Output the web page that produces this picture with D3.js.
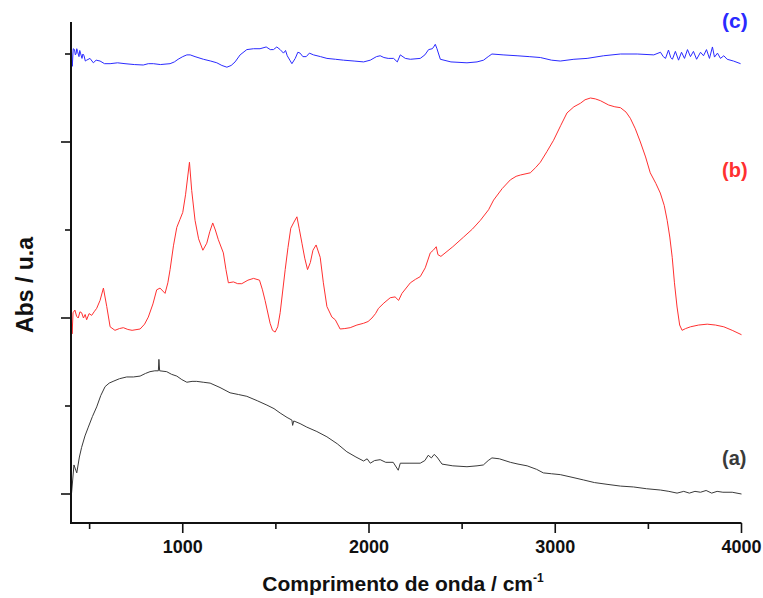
<!DOCTYPE html>
<html>
<head>
<meta charset="utf-8">
<script src="https://cdn.jsdelivr.net/npm/d3@7"></script>
<style>
  body { margin: 0; background: #fff; }
  svg text { font-family: "Liberation Sans", Arial, sans-serif; font-weight: bold; }
</style>
</head>
<body>
<div id="chart"></div>
<script>
// Spectrum (a) - black, [wavenumber, absorbance]
var seriesA = [
  [403, 0.01], [416, 0.33], [431, 0.24], [445, 0.42], [457, 0.53], [475, 0.66], [493, 0.76],
  [515, 0.88], [538, 0.99], [560, 1.12], [583, 1.22], [605, 1.26], [626, 1.28], [660, 1.31],
  [699, 1.33], [735, 1.33], [771, 1.34], [800, 1.37], [824, 1.39], [850, 1.40], [869, 1.40],
  [872, 1.53], [876, 1.40], [914, 1.39], [940, 1.36], [968, 1.34], [995, 1.30], [1022, 1.27],
  [1050, 1.28], [1075, 1.28], [1110, 1.27], [1147, 1.26], [1200, 1.21], [1254, 1.15],
  [1300, 1.13], [1344, 1.11], [1400, 1.06], [1452, 1.01], [1490, 0.97], [1523, 0.92],
  [1560, 0.87], [1586, 0.84], [1590, 0.78], [1596, 0.83], [1630, 0.80], [1666, 0.76],
  [1720, 0.71], [1774, 0.65], [1830, 0.57], [1881, 0.48], [1930, 0.42], [1971, 0.375],
  [1990, 0.40], [2007, 0.35], [2030, 0.38], [2060, 0.39], [2090, 0.36], [2130, 0.36],
  [2157, 0.27], [2168, 0.35], [2220, 0.35], [2275, 0.35], [2300, 0.38], [2318, 0.44],
  [2335, 0.41], [2350, 0.45], [2365, 0.42], [2392, 0.34], [2450, 0.32], [2526, 0.31],
  [2580, 0.32], [2614, 0.33], [2640, 0.38], [2660, 0.41], [2700, 0.40], [2759, 0.36],
  [2800, 0.34], [2849, 0.32], [2900, 0.28], [2936, 0.24], [2980, 0.23], [3027, 0.22],
  [3090, 0.19], [3151, 0.16], [3210, 0.13], [3278, 0.11], [3350, 0.09], [3420, 0.08],
  [3490, 0.06], [3565, 0.045], [3610, 0.03], [3654, 0.01], [3690, 0.03], [3720, 0.01],
  [3750, 0.03], [3780, 0.02], [3810, 0.04], [3840, 0.01], [3869, 0.03], [3900, 0.02],
  [3950, 0.02], [4000, 0.0]
];

// Spectrum (b) - red
var seriesB = [
  [403, 1.95], [406, 1.82], [411, 2.06], [421, 2.09], [430, 2.02], [439, 2.00], [448, 2.07],
  [457, 2.06], [467, 2.00], [476, 2.04], [484, 1.98], [497, 2.05], [511, 2.03], [524, 2.07],
  [538, 2.11], [556, 2.20], [574, 2.34], [592, 2.13], [610, 1.90], [636, 1.86], [660, 1.88],
  [681, 1.89], [705, 1.87], [728, 1.86], [771, 1.875], [795, 1.93], [815, 2.01], [840, 2.16],
  [860, 2.32], [878, 2.34], [905, 2.28], [920, 2.40], [932, 2.55], [950, 2.82], [968, 3.03],
  [985, 3.12], [1000, 3.20], [1015, 3.40], [1036, 3.77], [1048, 3.45], [1066, 3.11],
  [1085, 2.90], [1108, 2.77], [1129, 2.85], [1145, 2.98], [1161, 3.08], [1175, 3.00],
  [1191, 2.89], [1218, 2.74], [1232, 2.55], [1245, 2.40], [1272, 2.41], [1295, 2.39],
  [1317, 2.39], [1350, 2.43], [1380, 2.45], [1412, 2.43], [1428, 2.32], [1442, 2.20],
  [1469, 1.94], [1482, 1.86], [1496, 1.84], [1510, 1.90], [1523, 2.06], [1550, 2.55],
  [1565, 2.80], [1580, 3.02], [1597, 3.09], [1613, 3.15], [1625, 3.02], [1640, 2.85],
  [1655, 2.68], [1670, 2.55], [1685, 2.63], [1699, 2.77], [1716, 2.83], [1738, 2.69],
  [1755, 2.40], [1774, 2.13], [1801, 2.01], [1819, 1.98], [1845, 1.875], [1870, 1.88],
  [1899, 1.89], [1935, 1.92], [1971, 1.94], [1995, 1.96], [2016, 2.00], [2035, 2.05],
  [2051, 2.11], [2080, 2.17], [2114, 2.23], [2140, 2.24], [2159, 2.20], [2177, 2.28],
  [2222, 2.40], [2250, 2.44], [2275, 2.47], [2302, 2.57], [2329, 2.74], [2345, 2.77],
  [2361, 2.81], [2370, 2.72], [2386, 2.70], [2450, 2.81], [2508, 2.92], [2555, 3.01],
  [2598, 3.11], [2642, 3.23], [2669, 3.34], [2715, 3.47], [2759, 3.57], [2790, 3.61],
  [2813, 3.625], [2866, 3.65], [2895, 3.71], [2920, 3.77], [2955, 3.89], [2991, 4.02],
  [3030, 4.19], [3063, 4.33], [3100, 4.40], [3135, 4.44], [3160, 4.48], [3189, 4.50],
  [3215, 4.49], [3242, 4.47], [3287, 4.42], [3320, 4.40], [3350, 4.39], [3380, 4.34],
  [3403, 4.27], [3430, 4.15], [3457, 4.00], [3485, 3.83], [3510, 3.65], [3540, 3.53],
  [3564, 3.42], [3585, 3.28], [3601, 3.11], [3615, 2.92], [3628, 2.69], [3640, 2.40],
  [3654, 2.125], [3668, 1.92], [3681, 1.86], [3700, 1.88], [3726, 1.90], [3770, 1.92],
  [3816, 1.93], [3860, 1.92], [3905, 1.90], [3950, 1.86], [4000, 1.81]
];

// Spectrum (c) - blue
var seriesC = [
  [403, 5.03], [407, 4.86], [412, 5.06], [419, 5.05], [423, 4.99], [427, 5.00], [431, 5.06],
  [435, 5.03], [443, 4.97], [447, 5.04], [451, 5.01], [459, 4.95], [464, 5.00], [470, 4.98],
  [477, 4.92], [484, 4.93], [502, 4.95], [520, 4.90], [535, 4.93], [556, 4.92], [580, 4.89],
  [610, 4.89], [650, 4.90], [690, 4.89], [740, 4.88], [788, 4.875], [815, 4.89], [842, 4.89],
  [880, 4.88], [932, 4.89], [955, 4.91], [975, 4.94], [1000, 4.97], [1022, 4.99], [1040, 4.99],
  [1066, 4.97], [1111, 4.94], [1150, 4.92], [1183, 4.90], [1210, 4.87], [1237, 4.85],
  [1260, 4.87], [1281, 4.91], [1308, 4.99], [1344, 5.05], [1380, 5.06], [1415, 5.06],
  [1448, 5.08], [1470, 5.05], [1487, 5.05], [1505, 5.08], [1523, 5.05], [1541, 5.01],
  [1552, 5.04], [1561, 4.98], [1575, 4.93], [1586, 4.89], [1604, 4.95], [1618, 5.02],
  [1630, 5.01], [1645, 4.97], [1663, 4.97], [1680, 5.01], [1702, 4.99], [1740, 4.97],
  [1774, 4.95], [1820, 4.94], [1863, 4.93], [1920, 4.92], [1971, 4.91], [2007, 4.93],
  [2040, 4.97], [2060, 4.98], [2080, 4.96], [2103, 4.95], [2132, 4.95], [2152, 4.91],
  [2168, 4.99], [2195, 4.95], [2222, 4.94], [2275, 4.95], [2300, 4.99], [2320, 5.05],
  [2340, 5.06], [2347, 5.08], [2356, 5.11], [2365, 5.06], [2383, 4.94], [2440, 4.91],
  [2526, 4.90], [2580, 4.91], [2615, 4.93], [2640, 4.97], [2660, 5.00], [2720, 4.99],
  [2795, 4.98], [2860, 4.97], [2920, 4.96], [2980, 4.93], [3027, 4.92], [3100, 4.94],
  [3171, 4.95], [3260, 4.98], [3350, 5.00], [3440, 5.00], [3529, 4.99], [3565, 5.02],
  [3580, 4.97], [3592, 4.95], [3608, 5.045], [3620, 4.96], [3629, 4.94], [3645, 5.03],
  [3662, 4.93], [3678, 5.02], [3694, 4.95], [3710, 5.05], [3726, 4.97], [3742, 5.03],
  [3759, 4.94], [3780, 5.02], [3796, 4.98], [3812, 5.05], [3828, 4.95], [3844, 5.08],
  [3855, 4.965], [3871, 5.01], [3887, 4.95], [3905, 4.98], [3923, 4.94], [3957, 4.92],
  [3995, 4.89]
];

var xMajorTicks = [1000, 2000, 3000, 4000];
var xMinorTicks = [500, 1500, 2500, 3500];
var yMajorTicks = [0, 2, 4];
var yMinorTicks = [1, 3, 5];

var seriesLabels = [
  {text: "(a)", data: seriesA, color: "#3a3a3a", labelY: 0.33, size: 20},
  {text: "(b)", data: seriesB, color: "#ff3030", labelY: 3.60, size: 20},
  {text: "(c)", data: seriesC, color: "#2a2aff", labelY: 5.295, size: 21}
];

var width = 763, height = 598;

var svg = d3.select("#chart").append("svg")
  .attr("width", width)
  .attr("height", height);

// scales: 400 cm-1 sits on the left axis
var xScale = d3.scaleLinear().domain([400, 4000]).range([71, 741.5]);
var yScale = d3.scaleLinear().domain([0, 5]).range([494, 54]);

var axisBottomY = 523;
var axisLeftX = 71;

// spectra
var line = d3.line()
  .x(function(d) { return xScale(d[0]); })
  .y(function(d) { return yScale(d[1]); });

seriesLabels.forEach(function(s) {
  svg.append("path")
    .datum(s.data)
    .attr("fill", "none")
    .attr("stroke", s.color)
    .attr("stroke-width", 1)
    .attr("stroke-linejoin", "round")
    .attr("d", line);

  svg.append("text")
    .attr("x", 722)
    .attr("y", yScale(s.labelY))
    .attr("fill", s.color)
    .style("font-size", s.size + "px")
    .text(s.text);
});

// bottom axis
var gX = svg.append("g").attr("transform", "translate(0," + axisBottomY + ")");
gX.append("line")
  .attr("x1", axisLeftX - 1).attr("x2", xScale(4000))
  .attr("stroke", "#111").attr("stroke-width", 2);
gX.selectAll(".major").data(xMajorTicks).enter().append("line")
  .attr("x1", xScale).attr("x2", xScale)
  .attr("y1", 0).attr("y2", 10)
  .attr("stroke", "#111").attr("stroke-width", 1.6);
gX.selectAll(".minor").data(xMinorTicks).enter().append("line")
  .attr("x1", xScale).attr("x2", xScale)
  .attr("y1", 0).attr("y2", 6)
  .attr("stroke", "#111").attr("stroke-width", 1.6);
gX.selectAll(".lbl").data(xMajorTicks).enter().append("text")
  .attr("x", xScale)
  .attr("y", 30)
  .attr("text-anchor", "middle")
  .style("font-size", "18px")
  .attr("fill", "#111")
  .text(function(d) { return d; });

// left axis
var gY = svg.append("g").attr("transform", "translate(" + axisLeftX + ",0)");
gY.append("line")
  .attr("y1", 22).attr("y2", axisBottomY + 1)
  .attr("stroke", "#111").attr("stroke-width", 2);
gY.selectAll(".major").data(yMajorTicks).enter().append("line")
  .attr("y1", yScale).attr("y2", yScale)
  .attr("x1", -10).attr("x2", 0)
  .attr("stroke", "#111").attr("stroke-width", 1.6);
gY.selectAll(".minor").data(yMinorTicks).enter().append("line")
  .attr("y1", yScale).attr("y2", yScale)
  .attr("x1", -6).attr("x2", 0)
  .attr("stroke", "#111").attr("stroke-width", 1.6);

// axis titles
var xTitle = svg.append("text")
  .attr("x", 403)
  .attr("y", 591)
  .attr("text-anchor", "middle")
  .attr("fill", "#111")
  .style("font-size", "21px");
xTitle.append("tspan").text("Comprimento de onda / cm");
xTitle.append("tspan").attr("dy", -9).style("font-size", "12px").text("-1");

svg.append("text")
  .attr("transform", "translate(33,285) rotate(-90)")
  .attr("text-anchor", "middle")
  .attr("fill", "#111")
  .style("font-size", "23px")
  .text("Abs / u.a");
</script>
</body>
</html>
